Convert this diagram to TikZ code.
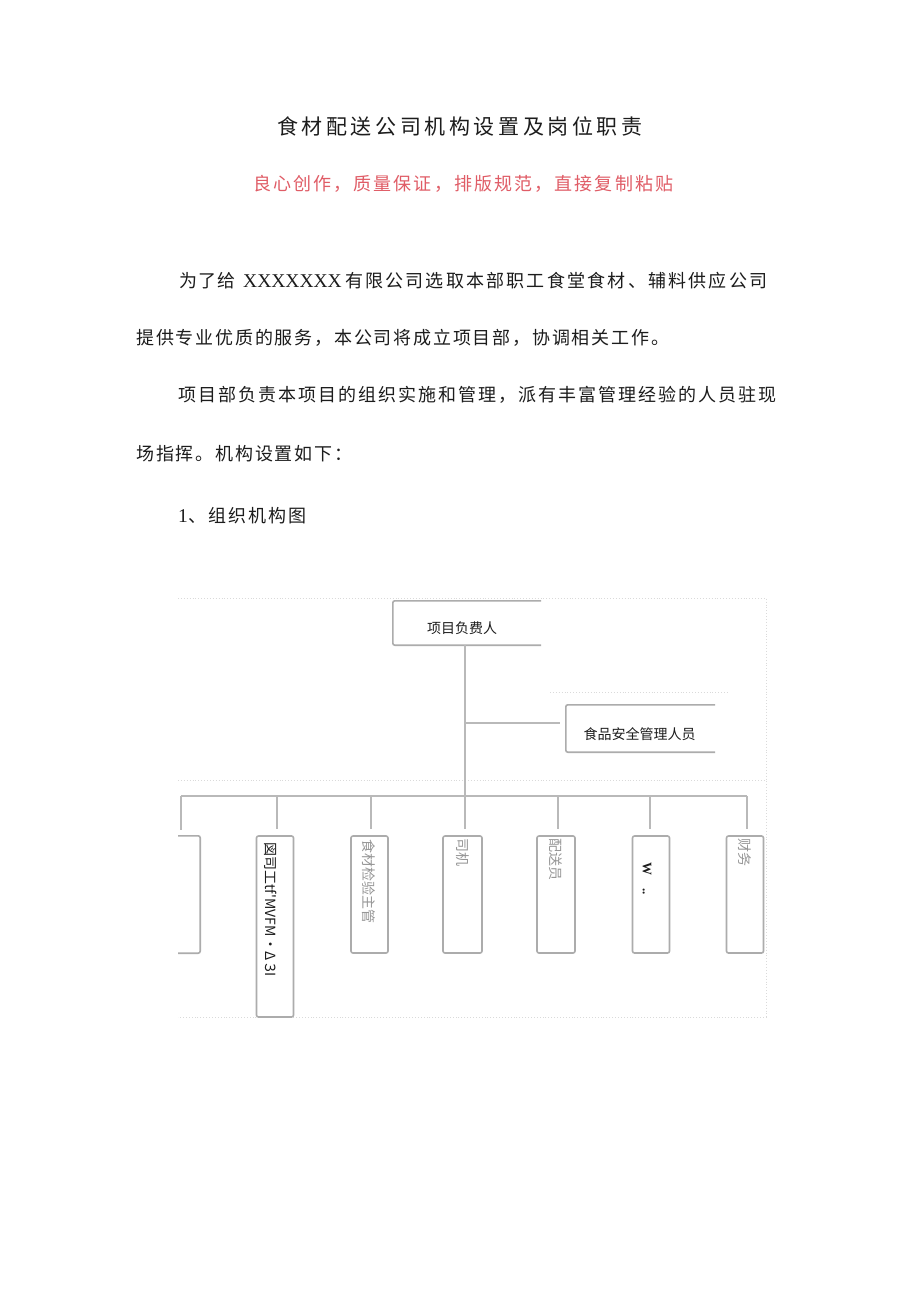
\documentclass[tikz,border=0pt]{standalone}
\usepackage{fontspec}
\setmainfont{Liberation Serif}
\newfontfamily\cjk{Noto Sans CJK SC}
\definecolor{subred}{RGB}{224,92,102}
\definecolor{conngray}{RGB}{185,185,185}
\definecolor{boxgray}{RGB}{172,172,172}
\definecolor{framegray}{RGB}{218,218,218}
\definecolor{graytext}{RGB}{150,150,150}
\definecolor{ink}{RGB}{28,28,28}
\newcommand\spcmark{}
\def\spcloop#1{\ifx#1\spcmark\else#1\kern\spckern\expandafter\spcloop\fi}
\newcommand\spacedtext[2]{\def\spckern{#1pt}\spcloop#2\spcmark}
\begin{document}
\begin{tikzpicture}[x=1pt,y=-1pt,
  txt/.style={inner sep=0pt, anchor=base west, text=ink},
  body/.style={txt, font=\cjk\fontsize{18}{18}\selectfont},
  latin/.style={txt, font=\fontsize{19.5}{19.5}\selectfont},
  frame/.style={draw=framegray, dotted, line width=0.9pt},
  conn/.style={draw=conngray, line width=1.8pt},
  boxline/.style={draw=boxgray, line width=1.6pt, rounded corners=2pt},
  ghost/.style={inner sep=0pt, minimum width=#1},
  vbox/.style={boxline, inner sep=0pt, minimum width=37pt},
  vtext/.style={inner sep=0pt, rotate=-90, anchor=west, font=\cjk\fontsize{14}{14}\selectfont},
  lab/.style={inner sep=0pt, text=ink, font=\cjk\fontsize{14}{14}\selectfont}]
\useasboundingbox (0,0) rectangle (920,1301);
\fill[white] (0,0) rectangle (920,1301);

% title and subtitle
\node[txt, font=\cjk\fontsize{21}{21}\selectfont] (title) at (277,134) {\spacedtext{3.6}{食材配送公司机构设置及岗位职责}};
\node[txt, text=subred, font=\cjk\fontsize{18}{18}\selectfont] (subtitle) at (253,190) {\spacedtext{2.1}{良心创作，质量保证，排版规范，直接复制粘贴}};

% paragraphs
\node[body] (l1a) at (179,287) {\spacedtext{1}{为了给}};
\node[latin] (l1b) at (243,287) {XXXXXXX};
\node[body] (l1c) at (345,287) {\spacedtext{2.2}{有限公司选取本部职工食堂食材、辅料供应公司}};
\node[body] (l2) at (136,344) {\spacedtext{1.8}{提供专业优质的服务，本公司将成立项目部，协调相关工作。}};
\node[body] (l3) at (178,401) {\spacedtext{2}{项目部负责本项目的组织实施和管理，派有丰富管理经验的人员驻现}};
\node[body] (l4) at (136,460) {\spacedtext{1.8}{场指挥。机构设置如下：}};
\node[latin] (l5a) at (178,522) {1};
\node[body] (l5b) at (188,522) {\spacedtext{2}{、组织机构图}};

% faint frame of the chart
\coordinate (frameL) at (178,0);
\draw[frame] (178,598) -- (766,598) -- (766,1017) -- (178,1017);
\draw[frame] (178,780) -- (766,780);
\draw[frame] (550,692) -- (727,692);

% top box (open on the right)
\node[ghost=148pt, minimum height=44pt] (top) at (467,623) {};
\draw[boxline] (top.north east) -- (top.north west) -- (top.south west) -- (top.south east);
\node[lab] (toplabel) at (462,628) {项目负费人};

% food safety box (open on the right)
\node[ghost=149pt, minimum height=47pt] (safe) at (640.5,728.5) {};
\draw[boxline] (safe.north east) -- (safe.north west) -- (safe.south west) -- (safe.south east);
\node[lab] (safelabel) at (639.5,734) {食品安全管理人员};

% bus coordinates
\coordinate (bus1) at (181,796);
\coordinate (bus2) at (277,796);
\coordinate (bus3) at (371,796);
\coordinate (bus4) at (465,796);
\coordinate (bus5) at (558,796);
\coordinate (bus6) at (650,796);
\coordinate (bus7) at (747,796);
\coordinate (br) at (465,723);

% lower boxes
\node[ghost=38pt, minimum height=117pt] (b1) at (181,894.5) {};
\draw[boxline] (b1.north -| frameL) -- (b1.north east) -- (b1.south east) -- (b1.south -| frameL);
\node[vbox, minimum height=181pt] (b2) at (275,926.5) {};
\node[vbox, minimum height=117pt] (b3) at (369.5,894.5) {};
\node[vbox, minimum width=39pt, minimum height=117pt] (b4) at (462.5,894.5) {};
\node[vbox, minimum width=38pt, minimum height=117pt] (b5) at (556,894.5) {};
\node[vbox, minimum height=117pt] (b6) at (651,894.5) {};
\node[vbox, minimum height=117pt] (b7) at (745,894.5) {};

% connectors
\draw[conn] (top.south -| bus4) -- (bus4);
\draw[conn, shorten >=6pt] (br) -- (br -| safe.west);
\draw[conn] (bus1) -- (bus7);
\foreach \i in {1,...,7} {
  \draw[conn, shorten >=6pt] (bus\i) -- (bus\i |- b\i.north);
}

% texts in the lower boxes
\node[vtext, text=ink] (t2) at (271,842) {図司工tf'MVFM·Δ ЗI};
\node[vtext, text=graytext] (t3) at (369,839) {食材检验主管};
\node[vtext, text=graytext] (t4) at (463,838) {司机};
\node[vtext, text=graytext] (t5) at (556,838) {配送员};
\node[vtext, text=ink, font=\bfseries\fontsize{13}{13}\selectfont] (t6) at (647,862) {W\quad ..};
\node[vtext, text=graytext] (t7) at (745,838) {财务};
\end{tikzpicture}
\end{document}
